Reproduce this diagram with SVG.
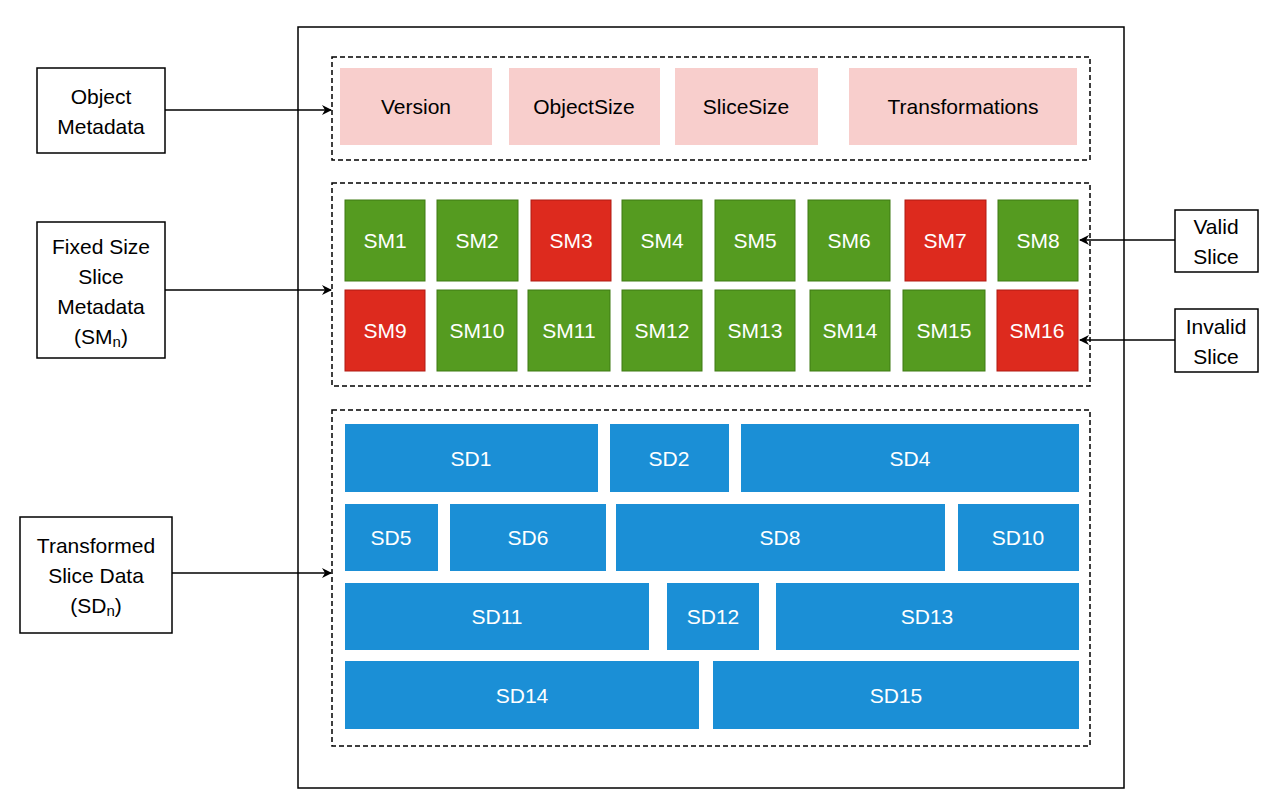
<svg xmlns="http://www.w3.org/2000/svg" width="1280" height="803" viewBox="0 0 1280 803">
<defs>
<style>
text{font-family:"Liberation Sans",Arial,sans-serif;font-size:21px;text-anchor:middle;dominant-baseline:central}
.w{fill:#fff}
.pk{fill:#f8cecc}
.g{fill:#559b20;stroke:#3f7a12;stroke-width:1}
.r{fill:#dd2a1e;stroke:#b01a12;stroke-width:1}
.b{fill:#1b8fd6}
.lab{fill:#fff;stroke:#000;stroke-width:1.5}
.dash{fill:none;stroke:#000;stroke-width:1.5;stroke-dasharray:5 3}
.c{stroke:#000;stroke-width:1.5;fill:none;marker-end:url(#ah)}
</style>
<marker id="ah" markerWidth="10" markerHeight="10" refX="9" refY="5" orient="auto" markerUnits="userSpaceOnUse"><path d="M0,0 L10,5 L0,10 L3,5 Z" fill="#000"/></marker>
</defs>
<rect width="1280" height="803" fill="#fff"/>
<rect x="298" y="27" width="826" height="761" fill="#fff" stroke="#000" stroke-width="1.5"/>
<rect class="dash" x="332" y="57" width="758" height="103"/>
<rect class="dash" x="332" y="183" width="758" height="203"/>
<rect class="dash" x="332" y="410" width="758" height="336"/>
<g id="meta">
<g id="version"><rect class="pk" x="340" y="68" width="152" height="77"/><text x="416" y="106">Version</text></g>
<g id="objectsize"><rect class="pk" x="509" y="68" width="151" height="77"/><text x="584" y="106">ObjectSize</text></g>
<g id="slicesize"><rect class="pk" x="675" y="68" width="143" height="77"/><text x="746" y="106">SliceSize</text></g>
<g id="transformations"><rect class="pk" x="849" y="68" width="228" height="77"/><text x="963" y="106">Transformations</text></g>
</g>
<g id="sm">
<g id="sm1"><rect class="g" x="345" y="200" width="80" height="81"/><text class="w" x="385" y="240">SM1</text></g>
<g id="sm2"><rect class="g" x="437" y="200" width="81" height="81"/><text class="w" x="477" y="240">SM2</text></g>
<g id="sm3"><rect class="r" x="531" y="200" width="80" height="81"/><text class="w" x="571" y="240">SM3</text></g>
<g id="sm4"><rect class="g" x="622" y="200" width="80" height="81"/><text class="w" x="662" y="240">SM4</text></g>
<g id="sm5"><rect class="g" x="715" y="200" width="80" height="81"/><text class="w" x="755" y="240">SM5</text></g>
<g id="sm6"><rect class="g" x="808" y="200" width="82" height="81"/><text class="w" x="849" y="240">SM6</text></g>
<g id="sm7"><rect class="r" x="905" y="200" width="81" height="81"/><text class="w" x="945" y="240">SM7</text></g>
<g id="sm8"><rect class="g" x="998" y="200" width="80" height="81"/><text class="w" x="1038" y="240">SM8</text></g>
<g id="sm9"><rect class="r" x="345" y="290" width="80" height="81"/><text class="w" x="385" y="330">SM9</text></g>
<g id="sm10"><rect class="g" x="437" y="290" width="80" height="81"/><text class="w" x="477" y="330">SM10</text></g>
<g id="sm11"><rect class="g" x="528" y="290" width="82" height="81"/><text class="w" x="569" y="330">SM11</text></g>
<g id="sm12"><rect class="g" x="622" y="290" width="80" height="81"/><text class="w" x="662" y="330">SM12</text></g>
<g id="sm13"><rect class="g" x="715" y="290" width="80" height="81"/><text class="w" x="755" y="330">SM13</text></g>
<g id="sm14"><rect class="g" x="810" y="290" width="80" height="81"/><text class="w" x="850" y="330">SM14</text></g>
<g id="sm15"><rect class="g" x="903" y="290" width="82" height="81"/><text class="w" x="944" y="330">SM15</text></g>
<g id="sm16"><rect class="r" x="997" y="290" width="81" height="81"/><text class="w" x="1037" y="330">SM16</text></g>
</g>
<g id="sd">
<g id="sd1"><rect class="b" x="345" y="424" width="253" height="68"/><text class="w" x="471" y="458">SD1</text></g>
<g id="sd2"><rect class="b" x="610" y="424" width="119" height="68"/><text class="w" x="669" y="458">SD2</text></g>
<g id="sd4"><rect class="b" x="741" y="424" width="338" height="68"/><text class="w" x="910" y="458">SD4</text></g>
<g id="sd5"><rect class="b" x="345" y="504" width="93" height="67"/><text class="w" x="391" y="537">SD5</text></g>
<g id="sd6"><rect class="b" x="450" y="504" width="156" height="67"/><text class="w" x="528" y="537">SD6</text></g>
<g id="sd8"><rect class="b" x="616" y="504" width="329" height="67"/><text class="w" x="780" y="537">SD8</text></g>
<g id="sd10"><rect class="b" x="958" y="504" width="121" height="67"/><text class="w" x="1018" y="537">SD10</text></g>
<g id="sd11"><rect class="b" x="345" y="583" width="304" height="67"/><text class="w" x="497" y="616">SD11</text></g>
<g id="sd12"><rect class="b" x="667" y="583" width="92" height="67"/><text class="w" x="713" y="616">SD12</text></g>
<g id="sd13"><rect class="b" x="776" y="583" width="303" height="67"/><text class="w" x="927" y="616">SD13</text></g>
<g id="sd14"><rect class="b" x="345" y="661" width="354" height="68"/><text class="w" x="522" y="695">SD14</text></g>
<g id="sd15"><rect class="b" x="713" y="661" width="366" height="68"/><text class="w" x="896" y="695">SD15</text></g>
</g>
<g id="lbl-object"><rect class="lab" x="37" y="68" width="128" height="85"/><text x="101" y="96">Object</text><text x="101" y="126">Metadata</text></g>
<g id="lbl-fixed"><rect class="lab" x="37" y="222" width="128" height="136"/><text x="101" y="246">Fixed Size</text><text x="101" y="276">Slice</text><text x="101" y="306">Metadata</text><text x="101" y="336">(SM<tspan font-size="15" dy="5">n</tspan><tspan dy="-5">)</tspan></text></g>
<g id="lbl-trans"><rect class="lab" x="20" y="517" width="152" height="116"/><text x="96" y="545">Transformed</text><text x="96" y="575">Slice Data</text><text x="96" y="605">(SD<tspan font-size="15" dy="5">n</tspan><tspan dy="-5">)</tspan></text></g>
<g id="lbl-valid"><rect class="lab" x="1175" y="210" width="83" height="62"/><text x="1216" y="226">Valid</text><text x="1216" y="256">Slice</text></g>
<g id="lbl-invalid"><rect class="lab" x="1175" y="309" width="83" height="63"/><text x="1216" y="326">Invalid</text><text x="1216" y="356">Slice</text></g>
<g id="connectors">
<path class="c" d="M165,110 L331,110"/>
<path class="c" d="M165,290 L331,290"/>
<path class="c" d="M172,573 L331,573"/>
<path class="c" d="M1175,240 L1080,240"/>
<path class="c" d="M1175,340 L1080,340"/>
</g>
</svg>
